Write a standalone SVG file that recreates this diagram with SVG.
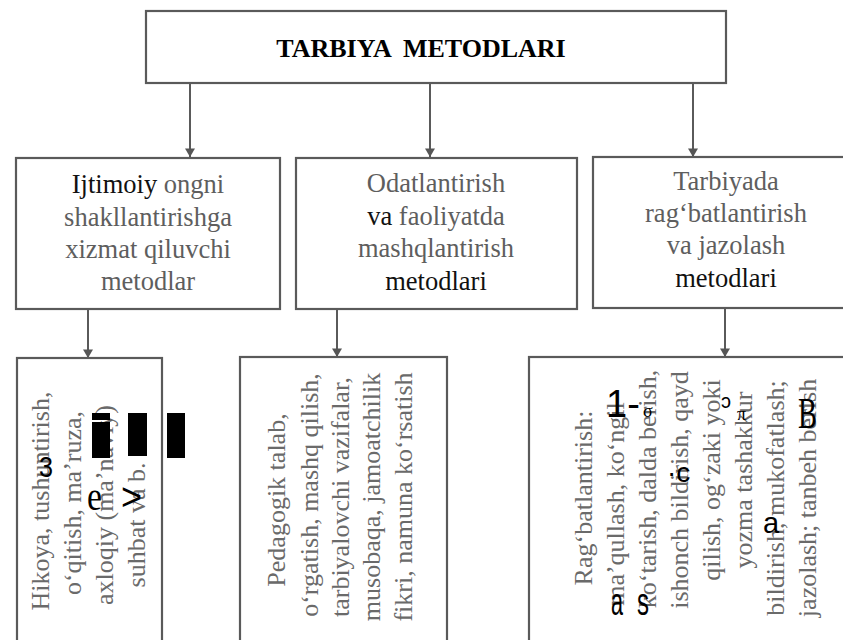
<svg xmlns="http://www.w3.org/2000/svg" width="843" height="640" viewBox="0 0 843 640">
<defs>
<marker id="arr" markerUnits="userSpaceOnUse" markerWidth="10" markerHeight="11" refX="9" refY="5.5" orient="auto">
<path d="M0.5,0.5 L9,5.5 L0.5,10.5 z" fill="#555"/>
</marker>
</defs>
<style>
.box{fill:#fff;stroke:#5a5a5a;stroke-width:2.2}
.ln{stroke:#5a5a5a;stroke-width:2;fill:none}
.t{font-family:"Liberation Serif","Times New Roman",serif;font-size:26.5px;fill:#5e5e5e;text-anchor:middle}
.k{fill:#111}
.r{font-family:"Liberation Serif","Times New Roman",serif;font-size:26px;fill:#6a6a6a;text-anchor:middle}
.o{font-family:"Liberation Sans",Arial,sans-serif;fill:#000}
.os{font-family:"Liberation Serif","Times New Roman",serif;fill:#000}
</style>
<rect width="843" height="640" fill="#fff"/>
<g id="connectors">
<line class="ln" x1="190" y1="83" x2="190" y2="157" marker-end="url(#arr)"/>
<line class="ln" x1="430" y1="83" x2="430" y2="157" marker-end="url(#arr)"/>
<line class="ln" x1="693" y1="83" x2="693" y2="157" marker-end="url(#arr)"/>
<line class="ln" x1="88" y1="309" x2="88" y2="358" marker-end="url(#arr)"/>
<line class="ln" x1="337" y1="309" x2="337" y2="357" marker-end="url(#arr)"/>
<line class="ln" x1="725" y1="308" x2="725" y2="357" marker-end="url(#arr)"/>
</g>
<g id="root">
<rect class="box" x="146" y="11" width="580" height="72"/>
<text x="421" y="57" font-family="Liberation Serif,Times New Roman,serif" font-size="26" font-weight="bold" fill="#000" text-anchor="middle" word-spacing="6">TARBIYA METODLARI</text>
</g>
<g id="n1">
<rect class="box" x="16" y="158" width="264" height="151"/>
<text class="t" x="148" y="193"><tspan class="k">Ijtimoiy</tspan> ongni</text>
<text class="t" x="148" y="225.5">shakllantirishga</text>
<text class="t" x="148" y="258">xizmat qiluvchi</text>
<text class="t" x="148" y="290">metodlar</text>
</g>
<g id="n2">
<rect class="box" x="296" y="158" width="281" height="151"/>
<text class="t" x="436" y="192">Odatlantirish</text>
<text class="t" x="436" y="224.5"><tspan class="k">va</tspan> faoliyatda</text>
<text class="t" x="436" y="257">mashqlantirish</text>
<text class="t k" x="436" y="289.5">metodlari</text>
</g>
<g id="n3">
<rect class="box" x="593" y="157" width="270" height="151"/>
<text class="t" x="726" y="190">Tarbiyada</text>
<text class="t" x="726" y="222">rag‘batlantirish</text>
<text class="t" x="726" y="254">va jazolash</text>
<text class="t k" x="726" y="287">metodlari</text>
</g>
<g id="n4">
<rect class="box" x="17" y="358" width="145" height="300"/>
<text class="r" transform="translate(49,501) rotate(-90)">Hikoya, tushuntirish,</text>
<text class="r" transform="translate(81,503) rotate(-90)">o‘qitish, ma’ruza,</text>
<text class="r" transform="translate(113,505) rotate(-90)">axloqiy (ma’naviy)</text>
<text class="r" transform="translate(145,525) rotate(-90)">suhbat va b.</text>
<rect x="92" y="413" width="18" height="7" fill="#000"/>
<rect x="92" y="422" width="18" height="36" fill="#000"/>
<rect x="128" y="413" width="19" height="43" fill="#000"/>
<rect x="167" y="413" width="18" height="45" fill="#000"/>
<text class="o" x="39" y="477" font-size="30" textLength="14" lengthAdjust="spacingAndGlyphs">3</text>
<text class="os" x="87" y="510" font-size="40" textLength="15" lengthAdjust="spacingAndGlyphs">e</text>
<text class="o" x="121" y="510" font-size="38" textLength="21" lengthAdjust="spacingAndGlyphs">&gt;</text>
</g>
<g id="n5">
<rect class="box" x="240" y="357" width="207" height="300"/>
<text class="r" transform="translate(285,500) rotate(-90)">Pedagogik talab,</text>
<text class="r" transform="translate(318,495) rotate(-90)">o‘rgatish, mashq qilish,</text>
<text class="r" transform="translate(349,497) rotate(-90)">tarbiyalovchi vazifalar,</text>
<text class="r" transform="translate(380,497) rotate(-90)">musobaqa, jamoatchilik</text>
<text class="r" transform="translate(412,497) rotate(-90)">fikri, namuna ko‘rsatish</text>
</g>
<g id="n6">
<rect class="box" x="529" y="357" width="330" height="300"/>
<text class="r" transform="translate(592,498) rotate(-90)">Rag‘batlantirish:</text>
<text class="r" transform="translate(624,504) rotate(-90)">ma’qullash, ko‘ngil</text>
<text class="r" transform="translate(656,489) rotate(-90)">ko‘tarish, dalda berish,</text>
<text class="r" transform="translate(688,490) rotate(-90)">ishonch bildirish, qayd</text>
<text class="r" transform="translate(720,480) rotate(-90)">qilish, og‘zaki yoki</text>
<text class="r" transform="translate(752,480) rotate(-90)">yozma tashakkur</text>
<text class="r" transform="translate(784,498) rotate(-90)">bildirish, mukofatlash;</text>
<text class="r" transform="translate(816,498) rotate(-90)">jazolash; tanbeh berish</text>
<text class="o" x="606" y="417" font-size="38">1-</text>
<text class="os" x="643" y="417" font-size="18">σ</text>
<text class="o" x="721" y="408" font-size="20">ɔ</text>
<text class="os" x="737" y="420" font-size="18">π</text>
<text class="os" x="798" y="428" font-size="44" textLength="19" lengthAdjust="spacingAndGlyphs">B</text>
<text class="o" x="667" y="482" font-size="28">·c</text>
<text class="o" x="763" y="533" font-size="29">a</text>
<text class="o" x="611" y="615" font-size="38" textLength="12" lengthAdjust="spacingAndGlyphs">a</text>
<text class="o" x="637" y="615" font-size="38" textLength="12" lengthAdjust="spacingAndGlyphs">s</text>
</g>
</svg>
